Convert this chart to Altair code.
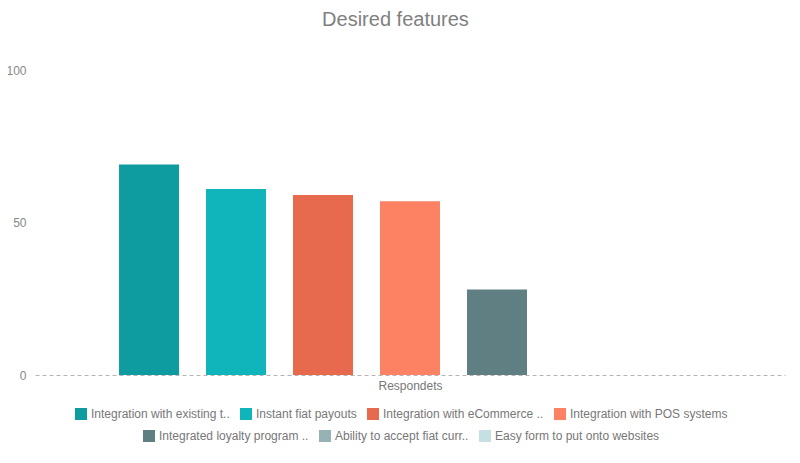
import altair as alt
import pandas as pd

features = [
    "Integration with existing t..",
    "Instant fiat payouts",
    "Integration with eCommerce ..",
    "Integration with POS systems",
    "Integrated loyalty program ..",
    "Ability to accept fiat curr..",
    "Easy form to put onto websites",
]
values = [69, 61, 59, 57, 28, 0, 0]
colors = ["#0e9ca1", "#10b5bc", "#e86a4e", "#fd8163", "#607f82", "#96b2b5", "#c6dfe0"]
legend_row = [1, 1, 1, 1, 2, 2, 2]

df = pd.DataFrame({"feature": features, "value": values, "row": legend_row})

FONT = "Liberation Sans"

x_enc = alt.X(
    "feature:N",
    sort=features,
    scale=alt.Scale(domain=features, paddingInner=0.31, paddingOuter=0.966),
    axis=alt.Axis(
        title="Respondets",
        labels=False,
        ticks=False,
        grid=False,
        domain=True,
        domainColor="#b5b5b5",
        domainDash=[4, 3],
        domainWidth=1,
        titleFont=FONT,
        titleFontSize=12,
        titleFontWeight="normal",
        titleColor="#777777",
        titlePadding=5,
    ),
)
y_enc = alt.Y(
    "value:Q",
    scale=alt.Scale(domain=[0, 100]),
    axis=alt.Axis(
        title=None,
        values=[0, 50, 100],
        grid=False,
        domain=False,
        ticks=False,
        labelFont=FONT,
        labelFontSize=12,
        labelColor="#888888",
        labelPadding=9,
    ),
)


def legend(x, y):
    return alt.Legend(
        title=None,
        orient="none",
        legendX=x,
        legendY=y,
        direction="horizontal",
        symbolType="square",
        symbolSize=144,
        symbolStrokeWidth=0,
        labelFont=FONT,
        labelFontSize=12,
        labelColor="#777777",
        labelOffset=4,
        columnPadding=10,
        padding=0,
        labelLimit=300,
    )


row1 = [f for f, r in zip(features, legend_row) if r == 1]
row2 = [f for f, r in zip(features, legend_row) if r == 2]
col1 = [c for c, r in zip(colors, legend_row) if r == 1]
col2 = [c for c, r in zip(colors, legend_row) if r == 2]

base = alt.Chart(df)

bars1 = base.transform_filter(alt.datum.row == 1).mark_bar().encode(
    x=x_enc,
    y=y_enc,
    color=alt.Color("feature:N", scale=alt.Scale(domain=row1, range=col1), sort=row1, legend=legend(40, 338)),
)
bars2 = base.transform_filter(alt.datum.row == 2).mark_bar().encode(
    x=x_enc,
    y=y_enc,
    color=alt.Color("feature:N", scale=alt.Scale(domain=row2, range=col2), sort=row2, legend=legend(108, 360)),
)

chart = (
    alt.layer(bars1, bars2)
    .resolve_scale(color="independent")
    .properties(
        width=750,
        height=305,
        autosize=alt.AutoSizeParams(type="none"),
        padding={"left": 27, "top": 62, "right": 7, "bottom": 80},
        background="white",
        title=alt.TitleParams(
            "Desired features",
            font=FONT,
            fontSize=20,
            fontWeight="normal",
            color="#808080",
            anchor="middle",
            frame="bounds",
            offset=34,
        ),
    )
    .configure_view(stroke=None, strokeWidth=0)
)

chart.save("out.html", embed_options={"renderer": "svg", "actions": False})
